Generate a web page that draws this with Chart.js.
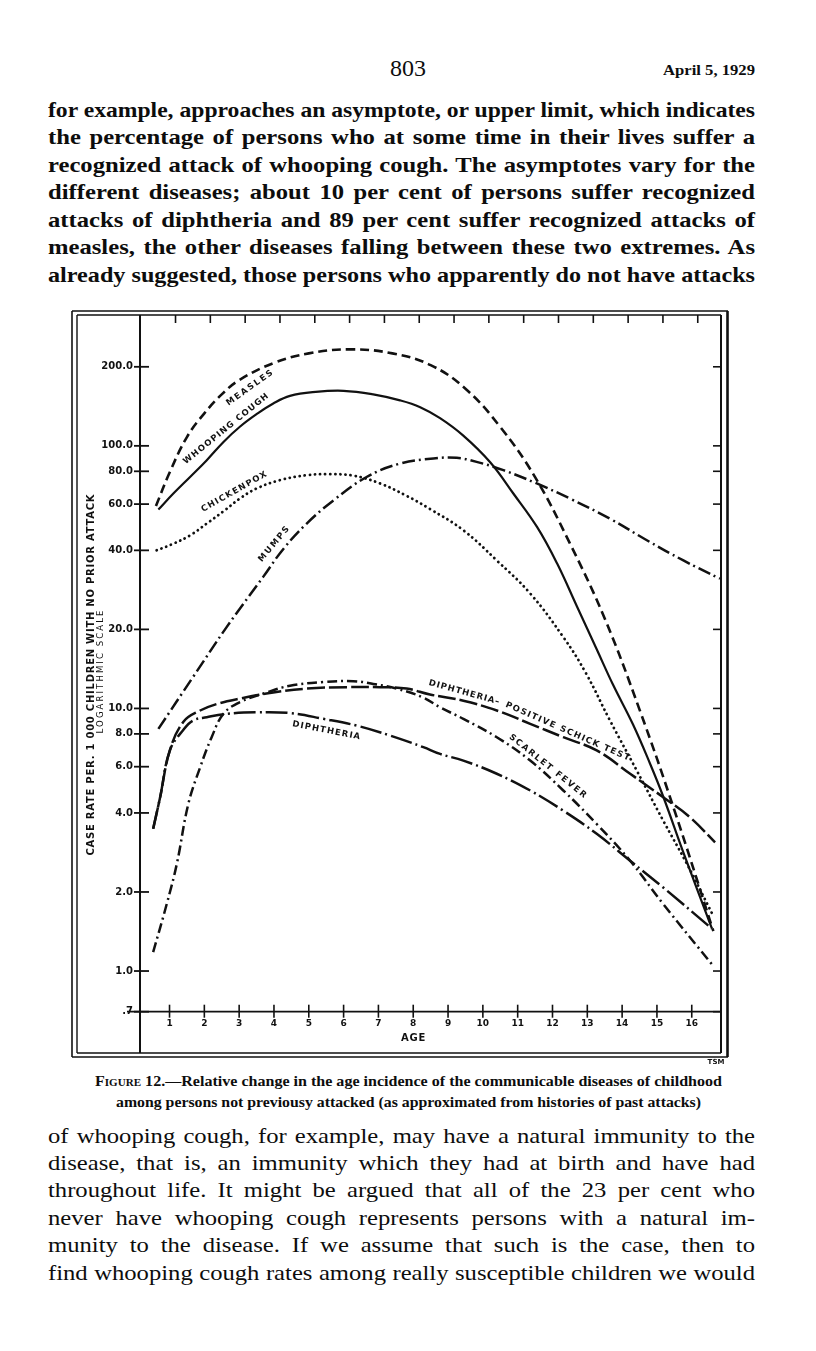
<!DOCTYPE html>
<html><head><meta charset="utf-8">
<script src="https://cdn.jsdelivr.net/npm/chart.js@4.4.1/dist/chart.umd.min.js"></script>
<style>
html,body{margin:0;padding:0;background:#fff;}
body{width:816px;height:1351px;position:relative;overflow:hidden;color:#0d0d0d;}
.ln{position:absolute;white-space:nowrap;font-family:"Liberation Serif","Times New Roman",serif;line-height:1;}
.b{font-weight:bold;}
.t22{font-size:22px;}
.cap{font-size:14.5px;font-weight:bold;}
#wrap{position:absolute;left:0;top:300px;width:816px;height:765px;}
</style></head><body>
<div class="ln" id="pgno" style="left:390px;top:56px;font-size:24px;">803</div>
<div class="ln b" data-w="92" style="left:663px;top:63px;font-size:15px;">April 5, 1929</div>

<div class="ln b t22" data-w="707" style="left:48px;top:98.6px;">for example, approaches an asymptote, or upper limit, which indicates</div>
<div class="ln b t22" data-w="707" style="left:48px;top:126.1px;">the percentage of persons who at some time in their lives suffer a</div>
<div class="ln b t22" data-w="707" style="left:48px;top:153.6px;">recognized attack of whooping cough. The asymptotes vary for the</div>
<div class="ln b t22" data-w="707" style="left:48px;top:181.1px;">different diseases; about 10 per cent of persons suffer recognized</div>
<div class="ln b t22" data-w="707" style="left:48px;top:208.6px;">attacks of diphtheria and 89 per cent suffer recognized attacks of</div>
<div class="ln b t22" data-w="707" style="left:48px;top:236.1px;">measles, the other diseases falling between these two extremes. As</div>
<div class="ln b t22" data-w="707" style="left:48px;top:263.6px;">already suggested, those persons who apparently do not have attacks</div>

<div id="wrap"><canvas id="c" width="816" height="765"></canvas></div>

<div class="ln cap" data-w="627" style="left:95px;top:1074.2px;"><span style="font-variant:small-caps">Figure</span> 12.—Relative change in the age incidence of the communicable diseases of childhood</div>
<div class="ln cap" data-w="585" style="left:116px;top:1095.2px;">among persons not previousy attacked (as approximated from histories of past attacks)</div>

<div class="ln t22" data-w="707" style="left:48px;top:1124.6px;">of whooping cough, for example, may have a natural immunity to the</div>
<div class="ln t22" data-w="707" style="left:48px;top:1152px;">disease, that is, an immunity which they had at birth and have had</div>
<div class="ln t22" data-w="707" style="left:48px;top:1179.4px;">throughout life. It might be argued that all of the 23 per cent who</div>
<div class="ln t22" data-w="707" style="left:48px;top:1206.8px;">never have whooping cough represents persons with a natural im-</div>
<div class="ln t22" data-w="707" style="left:48px;top:1234.2px;">munity to the disease. If we assume that such is the case, then to</div>
<div class="ln t22" data-w="707" style="left:48px;top:1261.6px;">find whooping cough rates among really susceptible children we would</div>

<script>
// ---------- DATA ----------
const xTickValues = [1,2,3,4,5,6,7,8,9,10,11,12,13,14,15,16];
const xTickLabels = ["1","2","3","4","5","6","7","8","9","10","11","12","13","14","15","16"];
const yTickValues = [0.7,1,2,4,6,8,10,20,40,60,80,100,200];
const yTickLabels = [".7","1.0","2.0","4.0","6.0","8.0","10.0","20.0","40.0","60.0","80.0","100.0","200.0"];

const measlesAge  = [0.61,1.0,1.5,2.0,2.5,3.0,4.0,5.0,6.2,7.4,8.5,9.5,10.5,11.5,12.5,13.5,14.5,15.5,16.62];
const measlesRate = [59,79,108,133,157,178,207,225,233,225,203,165,118,76,42.5,22,9.9,4.1,1.42];

const whoopingAge  = [0.68,1.11,1.59,2.07,2.55,3.02,3.5,3.98,4.46,5.2,6.0,6.85,7.62,8.2,8.77,9.43,10.21,10.87,11.56,12.13,12.70,13.27,13.74,14.31,14.80,15.18,15.75,16.58];
const whoopingRate = [57.2,65.8,76.1,88.2,103.5,118.2,132,145,155,160.5,162,157,149,140.4,127.5,109.6,86.6,66,49,35.7,24.5,16.8,12.3,8.7,6.17,4.62,2.85,1.45];

const chickenpoxAge  = [0.63,1.11,1.59,2.07,2.6,3.02,3.5,4.17,4.94,5.61,6.28,7.05,7.81,8.48,9.44,10.40,11.36,12.31,12.95,13.65,14.42,15.18,15.86,16.62];
const chickenpoxRate = [40,42.4,45.6,50.6,57,63,68.8,74,77.3,78,77,71.9,64.5,57.5,47.7,36.6,27.4,18.7,13.7,9.0,5.8,3.74,2.56,1.62];

const mumpsAge  = [0.68,1.68,2.64,3.69,4.27,4.94,5.71,6.66,7.62,8.58,9.25,9.82,10.59,11.55,12.50,13.65,14.71,15.76,16.81];
const mumpsRate = [8.36,13.2,20.4,31.7,40.5,50.6,62,76.1,85.6,89.5,90,86.9,80.8,71.9,63,52.8,43.7,36.6,31.2];

const schickAge  = [0.53,0.73,1.01,1.40,1.88,2.36,3.02,3.98,4.94,6.09,7.05,7.81,8.48,9.44,10.40,11.36,12.31,13.27,14.23,15.18,15.95,16.67];
const schickRate = [3.48,4.59,6.92,8.9,9.82,10.4,10.9,11.5,11.9,12.05,12.05,11.9,11.3,10.7,9.82,8.74,7.77,6.92,5.64,4.59,3.85,3.09];

const diphtheriaAge  = [0.53,0.73,1.01,1.40,1.68,2.07,2.64,3.5,4.46,5.42,6.38,7.33,8.29,8.77,9.44,10.40,11.36,12.31,13.27,14.23,15.18,16.58];
const diphtheriaRate = [3.48,4.59,6.92,8.3,9.0,9.26,9.54,9.67,9.6,9.13,8.6,7.89,7.12,6.71,6.33,5.64,4.87,4.08,3.33,2.63,2.08,1.45];

const scarletAge  = [0.53,0.92,1.21,1.54,1.88,2.21,2.55,3.02,3.79,4.46,5.42,6.28,6.85,7.52,8.29,8.77,9.44,10.40,11.36,12.31,13.27,14.23,15.18,16.58];
const scarletRate = [1.18,1.8,2.56,4.33,5.97,7.77,9.54,10.56,11.5,12.2,12.6,12.7,12.4,11.9,11.0,10.1,9.13,7.77,6.33,4.87,3.63,2.63,1.8,1.06];

// ---------- helpers ----------
const pts = (a, v) => a.map((x, i) => ({x: x, y: v[i]}));
const INK = '#111';
function ds(label, a, v, dash, width, cap) {
  return {label, data: pts(a, v), borderColor: INK, borderWidth: width, borderDash: dash,
    borderCapStyle: cap || 'butt', borderJoinStyle: 'round', pointRadius: 0, fill: false, tension: 0.4};
}

// justify text lines (slight horizontal stretch + word spacing)
document.querySelectorAll('[data-w]').forEach(el => {
  const target = +el.dataset.w;
  const nat = el.getBoundingClientRect().width;
  const spaces = (el.textContent.match(/ /g) || []).length;
  const sc = Math.min(target / nat, 1.12);
  el.style.transformOrigin = '0 50%';
  el.style.transform = 'scaleX(' + sc + ')';
  if (spaces) el.style.wordSpacing = ((target / sc - nat) / spaces) + 'px';
});

// curve labels (text, data position, angle, length)
const curveLabels = [
  {t: 'MEASLES', age: 3.3, rate: 166, ang: -35.5, len: 57},
  {t: 'WHOOPING COUGH', age: 2.62, rate: 116, ang: -39, len: 108},
  {t: 'CHICKENPOX', age: 2.85, rate: 66.7, ang: -29.4, len: 75},
  {t: 'MUMPS', age: 4.0, rate: 42.2, ang: -50, len: 45},
  {t: 'DIPHTHERIA', age: 5.50, rate: 8.24, ang: 11, len: 70},
  {t: 'DIPHTHERIA\u2013', age: 9.46, rate: 11.5, ang: 15.6, len: 74},
  {t: 'POSITIVE SCHICK TEST', age: 12.43, rate: 8.17, ang: 23.7, len: 136},
  {t: 'SCARLET FEVER', age: 11.86, rate: 6.03, ang: 38.8, len: 98}
];

function fitText(ctx, text, cx, cy, angDeg, font, len) {
  ctx.save();
  ctx.translate(cx, cy);
  ctx.rotate(angDeg * Math.PI / 180);
  ctx.font = font;
  ctx.letterSpacing = '0px';
  const w = ctx.measureText(text).width;
  ctx.textAlign = 'center';
  ctx.textBaseline = 'middle';
  if (w < len) {
    const sp = (len - w) / text.length;
    ctx.letterSpacing = sp + 'px';
    ctx.fillText(text, sp / 2, 0);
  } else {
    ctx.scale(len / w, 1);
    ctx.fillText(text, 0, 0);
  }
  ctx.restore();
}

const framePlugin = {
  id: 'frame',
  afterDraw(chart) {
    const {ctx, chartArea: ca, scales: {x, y}} = chart;
    const L = ca.left, R = ca.right, T = ca.top, B = ca.bottom;
    const FB = 753; // inner bottom frame line (canvas coords)
    ctx.save();
    ctx.strokeStyle = INK; ctx.fillStyle = INK; ctx.lineCap = 'butt';
    const line = (x1, y1, x2, y2, w) => { ctx.lineWidth = w; ctx.beginPath(); ctx.moveTo(x1, y1); ctx.lineTo(x2, y2); ctx.stroke(); };
    // outer frame
    line(72, 11, 728, 11, 1.6);
    line(72, 11, 72, 757, 1.6);
    line(72, 757, 728, 757, 1.6);
    line(727.5, 11, 727.5, 757, 2.6);
    // inner frame
    line(77, T, R, T, 1.6);
    line(77, T, 77, FB, 1.4);
    line(77, FB, R, FB, 1.6);
    line(R, T, R, FB, 2.0);
    // y axis line
    line(L, T, L, FB, 2.0);
    // x axis line
    line(127, B, R, B, 1.8);
    // y ticks left and right
    yTickValues.forEach(v => {
      const py = y.getPixelForValue(v);
      line(L - 6, py, L + 9, py, 1.8);
      line(R - 8, py, R, py, 1.6);
    });
    // x ticks bottom and top
    xTickValues.forEach(a => {
      const px = x.getPixelForValue(a);
      line(px, B - 7, px, B + 6, 1.6);
      line(px + 6, T, px + 6, T + 8, 1.6);
    });
    // axis titles
    fitText(ctx, 'AGE', x.getPixelForValue(8), 738, 0, 'bold 10px "DejaVu Sans"', 25);
    fitText(ctx, 'CASE RATE PER. 1 000 CHILDREN WITH NO PRIOR ATTACK', 91, 375, -90, 'bold 10px "DejaVu Sans"', 362);
    fitText(ctx, 'LOGARITHMIC SCALE', 101, 372, -90, '8.5px "DejaVu Sans"', 125);
    // curve labels
    curveLabels.forEach(l => {
      fitText(ctx, l.t, x.getPixelForValue(l.age), y.getPixelForValue(l.rate), l.ang, 'bold 8.5px "DejaVu Sans"', l.len);
    });
    // engraver's mark, bottom right
    ctx.font = 'bold 7px "DejaVu Sans"';
    ctx.textAlign = 'center'; ctx.textBaseline = 'middle';
    ctx.fillText('TSM', 716, 762);
    ctx.restore();
  }
};

new Chart(document.getElementById('c'), {
  type: 'line',
  data: {
    datasets: [
      ds('Measles', measlesAge, measlesRate, [9, 5], 2.6),
      ds('Whooping cough', whoopingAge, whoopingRate, [], 2.2),
      ds('Chickenpox', chickenpoxAge, chickenpoxRate, [0.1, 5], 2.8, 'round'),
      ds('Mumps', mumpsAge, mumpsRate, [13, 4, 2, 4], 2.5),
      ds('Diphtheria-positive Schick test', schickAge, schickRate, [18, 4], 2.5),
      ds('Diphtheria', diphtheriaAge, diphtheriaRate, [22, 4, 2, 4], 2.5),
      ds('Scarlet fever', scarletAge, scarletRate, [10, 4, 2, 4], 2.5)
    ]
  },
  options: {
    responsive: false, animation: false, devicePixelRatio: 1,
    layout: {padding: {left: 0, right: 95, top: 15, bottom: 0}},
    plugins: {legend: {display: false}, tooltip: {enabled: false}, title: {display: false}},
    scales: {
      x: {
        type: 'linear', min: 0.152, max: 16.84,
        grid: {display: false, drawTicks: false}, border: {display: false},
        afterBuildTicks: s => { s.ticks = xTickValues.map(v => ({value: v})); },
        afterFit: s => { s.height = 765 - 711.7; },
        ticks: {padding: 7, autoSkip: false, maxRotation: 0, color: INK,
          font: {family: 'DejaVu Sans', weight: 'bold', size: 9},
          callback: (v, i) => xTickLabels[i]}
      },
      y: {
        type: 'logarithmic', min: 0.7, max: 315,
        grid: {display: false, drawTicks: false}, border: {display: false},
        afterBuildTicks: s => { s.ticks = yTickValues.map(v => ({value: v})); },
        afterFit: s => { s.width = 140; },
        ticks: {padding: 7, autoSkip: false, color: INK,
          font: {family: 'DejaVu Sans', weight: 'bold', size: 10},
          callback: (v, i) => yTickLabels[i]}
      }
    }
  },
  plugins: [framePlugin]
});
</script>
</body></html>
